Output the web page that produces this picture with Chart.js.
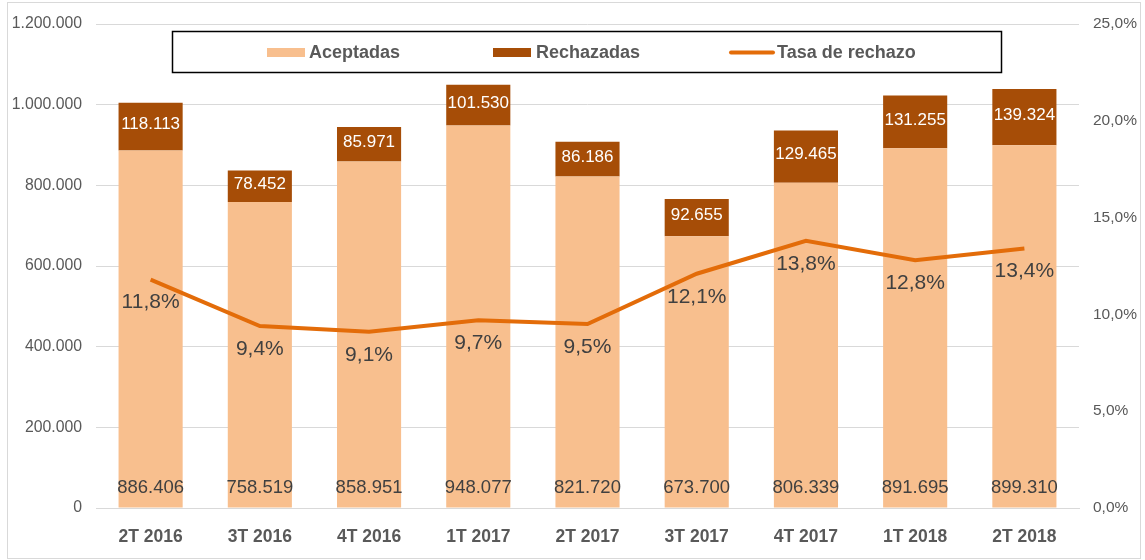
<!DOCTYPE html>
<html>
<head>
<meta charset="utf-8">
<script src="https://cdn.jsdelivr.net/npm/chart.js@4/dist/chart.umd.min.js"></script>
<style>
  body { margin: 0; background: #fff; }
  canvas { display: block; }
</style>
</head>
<body>
<canvas id="chart" width="1145" height="560"></canvas>
<script>
const categories = ["2T 2016", "3T 2016", "4T 2016", "1T 2017", "2T 2017", "3T 2017", "4T 2017", "1T 2018", "2T 2018"];
const aceptadas = [886406, 758519, 858951, 948077, 821720, 673700, 806339, 891695, 899310];
const rechazadas = [118113, 78452, 85971, 101530, 86186, 92655, 129465, 131255, 139324];
const tasaRechazo = [11.8, 9.4, 9.1, 9.7, 9.5, 12.1, 13.8, 12.8, 13.4];

const FONT = '"Liberation Sans", Arial, sans-serif';
const GRAY = "#595959";
const DARK = "#404040";
const PEACH = "#F8BF8E";
const BROWN = "#A64D07";
const ORANGE = "#E36C09";

// 1200000 -> "1.200.000"
function fmtThousands(v) {
  return String(Math.round(v)).replace(/\B(?=(\d{3})+(?!\d))/g, ".");
}
function fmtPct(v) {
  return v.toFixed(1).replace(".", ",") + "%";
}

const labelsPlugin = {
  id: "labels",
  afterDatasetsDraw(chart) {
    const ctx = chart.ctx;
    const area = chart.chartArea;
    ctx.save();
    ctx.textAlign = "center";
    ctx.textBaseline = "middle";
    chart.data.datasets.forEach((ds, i) => {
      const meta = chart.getDatasetMeta(i);
      meta.data.forEach((el, j) => {
        const v = ds.data[j];
        if (ds.label === "Aceptadas") {
          ctx.font = "18.5px " + FONT;
          ctx.fillStyle = DARK;
          ctx.fillText(fmtThousands(v), el.x, area.bottom - 20);
        } else if (ds.label === "Rechazadas") {
          ctx.font = "17px " + FONT;
          ctx.fillStyle = "#ffffff";
          ctx.fillText(fmtThousands(v), el.x, (el.y + el.base) / 2 - 2);
        } else {
          ctx.font = "21px " + FONT;
          ctx.fillStyle = DARK;
          ctx.fillText(fmtPct(v), el.x, el.y + 23);
        }
      });
    });
    ctx.restore();
  }
};

const framePlugin = {
  id: "frame",
  afterDraw(chart) {
    const ctx = chart.ctx;
    ctx.save();
    // outer border
    ctx.strokeStyle = "#d9d9d9";
    ctx.lineWidth = 1;
    ctx.strokeRect(7.5, 2.5, 1133, 556);

    // legend box
    ctx.strokeStyle = "#000000";
    ctx.lineWidth = 1.5;
    ctx.strokeRect(172.5, 31.5, 829, 41);

    ctx.font = "bold 18px " + FONT;
    ctx.fillStyle = GRAY;
    ctx.textBaseline = "middle";
    ctx.textAlign = "left";

    ctx.fillStyle = PEACH;
    ctx.fillRect(267, 48, 38, 9);
    ctx.fillStyle = GRAY;
    ctx.fillText("Aceptadas", 309, 53);

    ctx.fillStyle = BROWN;
    ctx.fillRect(493, 48, 38, 9);
    ctx.fillStyle = GRAY;
    ctx.fillText("Rechazadas", 536, 53);

    ctx.strokeStyle = ORANGE;
    ctx.lineWidth = 4;
    ctx.lineCap = "round";
    ctx.beginPath();
    ctx.moveTo(731, 52.5);
    ctx.lineTo(773, 52.5);
    ctx.stroke();
    ctx.fillStyle = GRAY;
    ctx.fillText("Tasa de rechazo", 777, 53);
    ctx.restore();
  }
};

new Chart(document.getElementById("chart"), {
  data: {
    labels: categories,
    datasets: [
      {
        type: "line",
        label: "Tasa de rechazo",
        data: tasaRechazo,
        yAxisID: "y1",
        borderColor: ORANGE,
        borderWidth: 4,
        pointRadius: 0,
        tension: 0,
        order: 0
      },
      {
        type: "bar",
        label: "Aceptadas",
        data: aceptadas,
        backgroundColor: PEACH,
        stack: "s",
        categoryPercentage: 1,
        barPercentage: 0.587,
        order: 1
      },
      {
        type: "bar",
        label: "Rechazadas",
        data: rechazadas,
        backgroundColor: BROWN,
        stack: "s",
        categoryPercentage: 1,
        barPercentage: 0.587,
        order: 1
      }
    ]
  },
  options: {
    responsive: false,
    animation: false,
    devicePixelRatio: 1,
    layout: { padding: { top: 24, left: 0, right: 0, bottom: 0 } },
    plugins: {
      legend: { display: false },
      tooltip: { enabled: false }
    },
    scales: {
      x: {
        stacked: true,
        grid: { display: false },
        border: { color: "#d9d9d9", width: 1 },
        ticks: {
          color: GRAY,
          font: { family: FONT, size: 17.5, weight: "bold" },
          padding: 11
        },
        afterFit(scale) { scale.height = 52; }
      },
      y: {
        stacked: true,
        position: "left",
        min: 0,
        max: 1200000,
        grid: { color: "#d9d9d9", drawTicks: false },
        border: { display: false },
        ticks: {
          stepSize: 200000,
          color: GRAY,
          font: { family: FONT, size: 15.8 },
          padding: 14,
          callback: (v) => fmtThousands(v)
        },
        afterFit(scale) { scale.width = 96; }
      },
      y1: {
        position: "right",
        min: 0,
        max: 25,
        grid: { display: false, drawTicks: false },
        border: { display: false },
        ticks: {
          stepSize: 5,
          color: GRAY,
          font: { family: FONT, size: 15.5 },
          padding: 14,
          callback: (v) => fmtPct(v)
        },
        afterFit(scale) { scale.width = 66; }
      }
    }
  },
  plugins: [labelsPlugin, framePlugin]
});
</script>
</body>
</html>
